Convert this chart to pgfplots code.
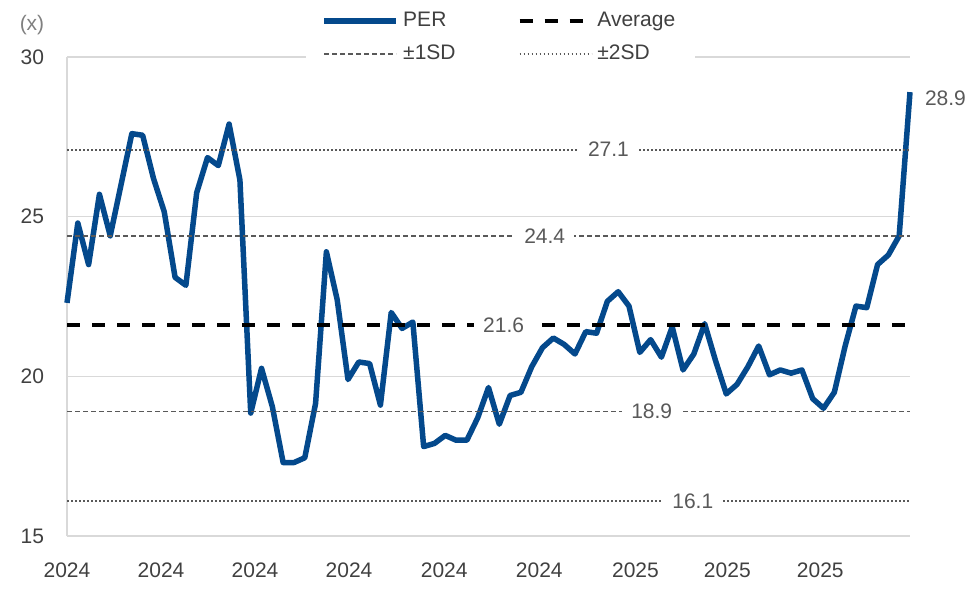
\documentclass[border=0pt]{standalone}
\usepackage{fontspec}
\setmainfont{Liberation Sans}
\usepackage{pgfplots}
\pgfplotsset{compat=1.18}
\definecolor{perblue}{RGB}{4,73,140}
\definecolor{gridgray}{RGB}{217,217,217}
\definecolor{refgray}{RGB}{89,89,89}
\definecolor{ticktext}{RGB}{64,64,64}

\begin{document}
\begin{tikzpicture}[font=\fontsize{10.5}{12.5}\selectfont]
\useasboundingbox (-33.5pt,-30pt) rectangle (454pt,268pt);
\begin{axis}[
  scale only axis, width=421.5pt, height=239.5pt,
  at={(0,0)}, anchor=south west,
  xmin=0, xmax=78, ymin=15, ymax=30,
  ytick={15,20,25,30},
  xtick={0,8.7,17.4,26.1,34.9,43.7,52.6,61.1,69.7},
  xticklabels={2024,2024,2024,2024,2024,2024,2025,2025,2025},
  /pgf/number format/assume math mode=true,
  axis x line*=bottom, axis y line*=left,
  axis line style={draw=gridgray, line width=0.75pt},
  tick style={draw=none},
  ymajorgrids, grid style={draw=gridgray, line width=0.75pt},
  yticklabel style={text=ticktext, xshift=-8pt},
  xticklabel style={text=ticktext, yshift=-10pt},
  clip=false,
  legend columns=2,
  legend cell align=left,
  legend style={draw=none, fill=white, at={(0.5,1)}, anchor=south,
    xshift=6pt, yshift=-7pt, inner xsep=8pt, inner ysep=2pt, row sep=3.5pt,
    text=ticktext,
    /tikz/every even column/.append style={column sep=29pt}},
  legend image code/.code={\draw[#1] (0pt,0pt) -- (36pt,0pt);},
]
\addplot[perblue, line width=2.75pt, line join=round] coordinates {
(0,22.3) (1,24.8) (2,23.5) (3,25.7) (4,24.4) (5,26.0) (6,27.6) (7,27.55)
(8,26.2) (9,25.15) (10,23.1) (11,22.85) (12,25.75) (13,26.85) (14,26.6) (15,27.9)
(16,26.15) (17,18.85) (18,20.25) (19,19.05) (20,17.3) (21,17.3) (22,17.45) (23,19.15)
(24,23.9) (25,22.4) (26,19.9) (27,20.45) (28,20.4) (29,19.1) (30,22.0) (31,21.5)
(32,21.7) (33,17.8) (34,17.9) (35,18.15) (36,18.0) (37,18.0) (38,18.7) (39,19.65)
(40,18.5) (41,19.4) (42,19.5) (43,20.3) (44,20.9) (45,21.2) (46,21.0) (47,20.7)
(48,21.4) (49,21.35) (50,22.35) (51,22.65) (52,22.2) (53,20.75) (54,21.15) (55,20.6)
(56,21.55) (57,20.2) (58,20.7) (59,21.65) (60,20.5) (61,19.45) (62,19.75) (63,20.3)
(64,20.95) (65,20.05) (66,20.2) (67,20.1) (68,20.2) (69,19.3) (70,19.0) (71,19.5)
(72,20.95) (73,22.2) (74,22.15) (75,23.5) (76,23.8) (77,24.4) (78,28.9)
};
\addlegendentry{PER}
\addplot[black, line width=1.9pt, dash pattern=on 6.5pt off 6pt] coordinates {(0,21.6) (78,21.6)};
\addlegendentry{Average}
\addplot[refgray, line width=0.9pt, dash pattern=on 2.4pt off 1.6pt] coordinates {(0,24.4) (78,24.4)};
\addlegendentry{±1SD}
\addplot[refgray, line width=0.9pt, dash pattern=on 0.9pt off 1.1pt] coordinates {(0,27.1) (78,27.1)};
\addlegendentry{±2SD}
\addplot[refgray, line width=0.9pt, dash pattern=on 2.4pt off 1.6pt, forget plot] coordinates {(0,18.9) (78,18.9)};
\addplot[refgray, line width=0.9pt, dash pattern=on 0.9pt off 1.1pt, forget plot] coordinates {(0,16.1) (78,16.1)};

\node[fill=white, text=refgray, inner xsep=4.5pt, inner ysep=1pt] at (axis cs:50.1,27.1) {27.1};
\node[fill=white, text=refgray, inner xsep=4.5pt, inner ysep=1pt] at (axis cs:44.2,24.4) {24.4};
\node[fill=white, text=refgray, inner xsep=4.5pt, inner ysep=1pt] at (axis cs:40.4,21.6) {21.6};
\node[fill=white, text=refgray, inner xsep=4.5pt, inner ysep=1pt] at (axis cs:54.1,18.9) {18.9};
\node[fill=white, text=refgray, inner xsep=4.5pt, inner ysep=1pt] at (axis cs:57.9,16.1) {16.1};
\node[text=refgray, anchor=west, xshift=4pt, yshift=-3pt] at (axis cs:78,28.9) {28.9};
\node[text=gray] at (rel axis cs:0,1) [xshift=-17.5pt, yshift=16pt] {(x)};
\end{axis}
\end{tikzpicture}
\end{document}
